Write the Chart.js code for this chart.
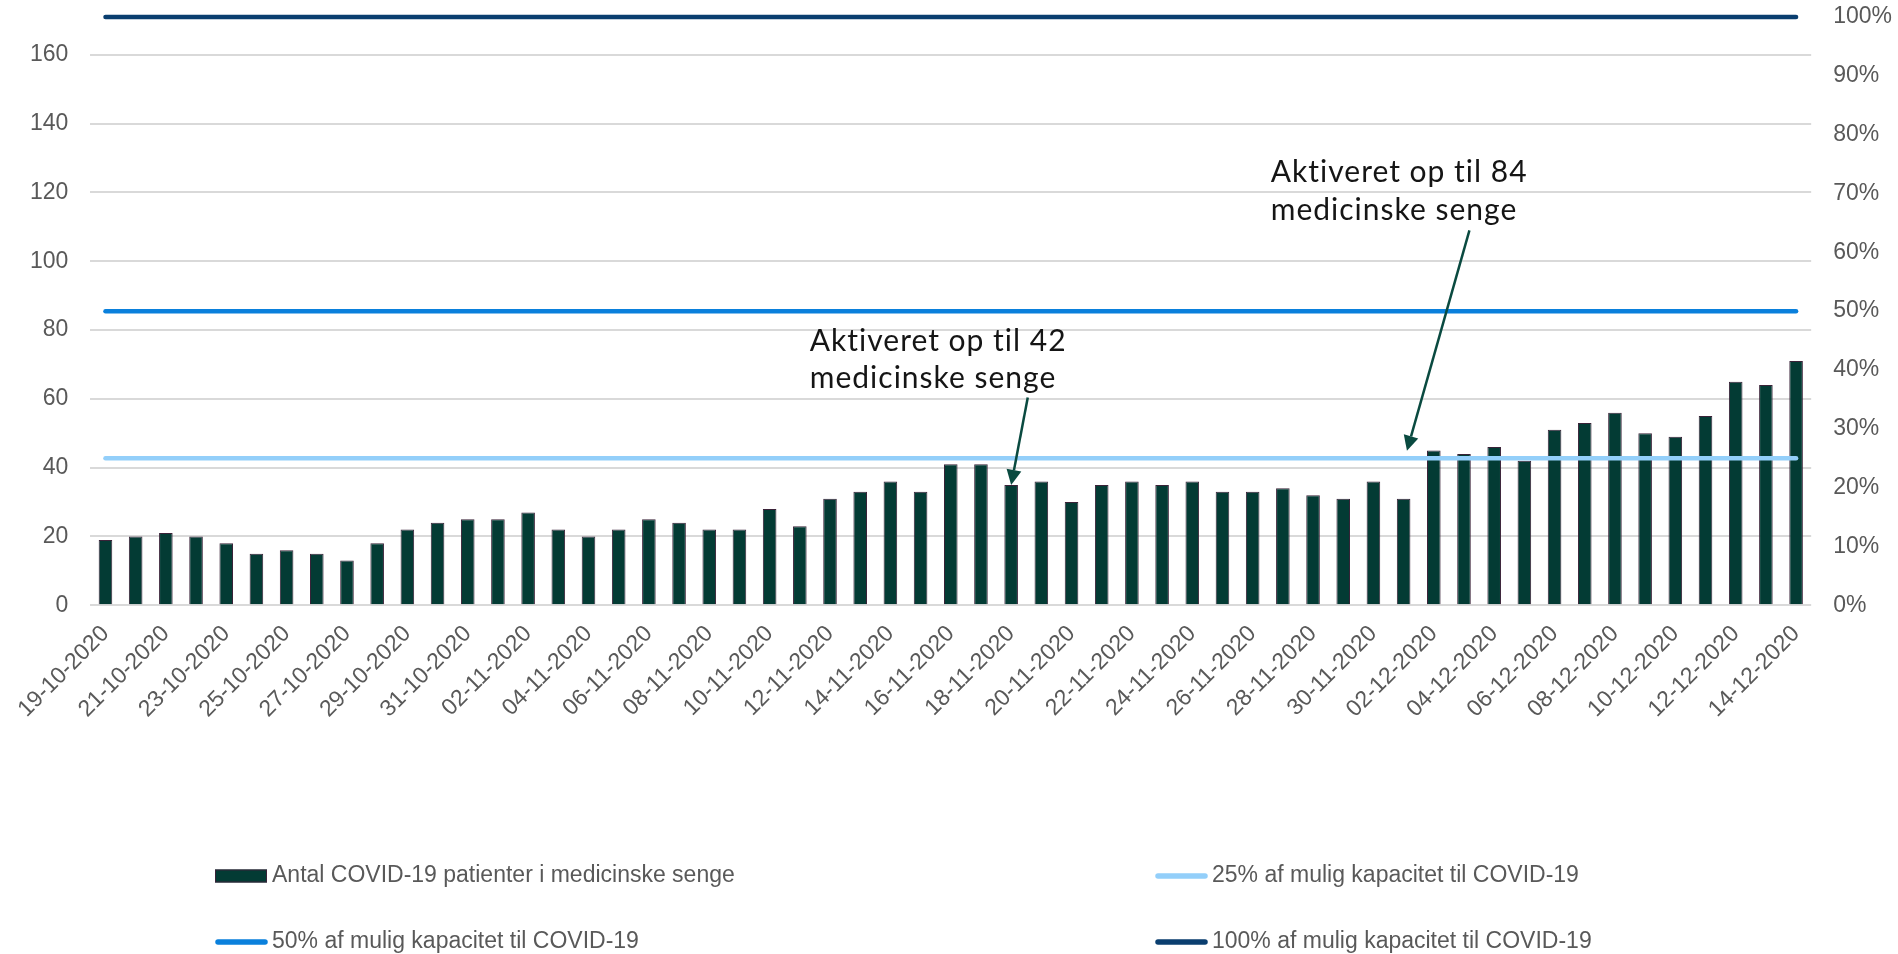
<!DOCTYPE html>
<html>
<head>
<meta charset="utf-8">
<script src="https://cdn.jsdelivr.net/npm/chart.js@4.4.1/dist/chart.umd.min.js"></script>
<style>
  html, body { margin: 0; padding: 0; background: #ffffff; }
  #wrap { width: 1898px; height: 954px; }
</style>
</head>
<body>
<div id="wrap"><canvas id="c" width="1898" height="954"></canvas></div>
<script>
// ---- data ----
const categories = [
  '19-10-2020','20-10-2020','21-10-2020','22-10-2020','23-10-2020','24-10-2020','25-10-2020','26-10-2020',
  '27-10-2020','28-10-2020','29-10-2020','30-10-2020','31-10-2020','01-11-2020','02-11-2020','03-11-2020',
  '04-11-2020','05-11-2020','06-11-2020','07-11-2020','08-11-2020','09-11-2020','10-11-2020','11-11-2020',
  '12-11-2020','13-11-2020','14-11-2020','15-11-2020','16-11-2020','17-11-2020','18-11-2020','19-11-2020',
  '20-11-2020','21-11-2020','22-11-2020','23-11-2020','24-11-2020','25-11-2020','26-11-2020','27-11-2020',
  '28-11-2020','29-11-2020','30-11-2020','01-12-2020','02-12-2020','03-12-2020','04-12-2020','05-12-2020',
  '06-12-2020','07-12-2020','08-12-2020','09-12-2020','10-12-2020','11-12-2020','12-12-2020','13-12-2020',
  '14-12-2020'
];
const patients = [
  19, 20, 21, 20, 18, 15, 16, 15, 13, 18, 22, 24, 25, 25, 27, 22, 20, 22, 25, 24,
  22, 22, 28, 23, 31, 33, 36, 33, 41, 41, 35, 36, 30, 35, 36, 35, 36, 33, 33, 34, 32, 31,
  36, 31, 45, 44, 46, 42, 51, 53, 56, 50, 49, 55, 65, 64, 71
];
const fullCapacity = 171;          // 100 % of possible COVID-19 capacity
const capacityShares = [0.25, 0.5, 1.0];
const seriesLabels = [
  'Antal COVID-19 patienter i medicinske senge',
  '25% af mulig kapacitet til COVID-19',
  '50% af mulig kapacitet til COVID-19',
  '100% af mulig kapacitet til COVID-19'
];
const leftTicks = [0, 20, 40, 60, 80, 100, 120, 140, 160];
const rightTicks = [0, 0.1, 0.2, 0.3, 0.4, 0.5, 0.6, 0.7, 0.8, 0.9, 1.0];
const annotations = [
  { lines: ['Aktiveret op til 42', 'medicinske senge'], textAt: [23.33, 74.0], lineStep: 10.9,
    arrowFrom: [30.55, 60.4], arrowTo: [30.0, 35.0] },
  { lines: ['Aktiveret op til 84', 'medicinske senge'], textAt: [38.6, 122.9], lineStep: 10.9,
    arrowFrom: [45.18, 109.0], arrowTo: [43.11, 44.9] }
];

// ---- styles ----
const barColor = '#033B34';
const barBorder = '#3A2238';
const lineColors = ['#93CFFA', '#0A80DC', '#0A3E6F'];
const tickColor = '#595959';
const gridColor = '#D9D9D9';
const FONT = "'Liberation Sans', Arial, sans-serif";

const capacityDatasets = capacityShares.map((s, i) => ({
  type: 'line',
  label: seriesLabels[i + 1],
  data: categories.map(() => fullCapacity * s),
  borderColor: lineColors[i],
  backgroundColor: lineColors[i],
  borderWidth: 4.5,
  borderCapStyle: 'round',
  pointRadius: 0,
  pointHoverRadius: 0,
  yAxisID: 'y',
  order: 0,
  clip: false
}));

const zeroPad = s => { s.paddingLeft = 0; s.paddingRight = 0; s.paddingTop = 0; s.paddingBottom = 0; };
// Chart.js reserves the tick padding twice for vertical axes; keep it once
const trimVertical = s => { zeroPad(s); s.width -= s.options.ticks.padding; };

const legendPlugin = {
  id: 'gridLegend',
  afterDraw(chart) {
    const ctx = chart.ctx;
    const cols = [215, 1155];
    const rows = [876, 942];
    const ds = chart.data.datasets;
    ctx.save();
    ctx.font = '23px ' + FONT;
    ctx.textBaseline = 'middle';
    ctx.fillStyle = tickColor;
    ds.forEach((d, i) => {
      const x = cols[i % 2];
      const y = rows[Math.floor(i / 2)];
      if (d.type === 'line') {
        ctx.strokeStyle = d.borderColor;
        ctx.lineWidth = 5.5;
        ctx.lineCap = 'round';
        ctx.beginPath();
        ctx.moveTo(x + 3, y);
        ctx.lineTo(x + 50, y);
        ctx.stroke();
      } else {
        ctx.fillStyle = d.backgroundColor;
        ctx.fillRect(x, y - 6.5, 52, 13);
        ctx.strokeStyle = d.borderColor;
        ctx.lineWidth = 1;
        ctx.strokeRect(x + 0.5, y - 6, 51, 12);
      }
      ctx.fillStyle = tickColor;
      ctx.fillText(d.label, x + 57, y);
    });
    ctx.restore();
  }
};

const annotationPlugin = {
  id: 'arrowNotes',
  afterDatasetsDraw(chart) {
    const ctx = chart.ctx;
    const xs = chart.scales.x, ys = chart.scales.y;
    ctx.save();
    annotations.forEach(a => {
      ctx.font = "30px Lato, 'Open Sans', sans-serif";
      if ('letterSpacing' in ctx) ctx.letterSpacing = '1px';
      ctx.fillStyle = '#151515';
      ctx.textBaseline = 'alphabetic';
      ctx.textAlign = 'left';
      a.lines.forEach((t, k) => {
        ctx.fillText(t, xs.getPixelForValue(a.textAt[0]), ys.getPixelForValue(a.textAt[1] - k * a.lineStep));
      });
      if ('letterSpacing' in ctx) ctx.letterSpacing = '0px';
      const x0 = xs.getPixelForValue(a.arrowFrom[0]), y0 = ys.getPixelForValue(a.arrowFrom[1]);
      const x1 = xs.getPixelForValue(a.arrowTo[0]), y1 = ys.getPixelForValue(a.arrowTo[1]);
      const ang = Math.atan2(y1 - y0, x1 - x0);
      const headLen = 15, headW = 7.5;
      const bx = x1 - headLen * Math.cos(ang), by = y1 - headLen * Math.sin(ang);
      ctx.strokeStyle = '#0A4A40';
      ctx.fillStyle = '#0A4A40';
      ctx.lineWidth = 2.5;
      ctx.beginPath();
      ctx.moveTo(x0, y0);
      ctx.lineTo(bx, by);
      ctx.stroke();
      ctx.beginPath();
      ctx.moveTo(x1, y1);
      ctx.lineTo(bx + headW * Math.sin(ang), by - headW * Math.cos(ang));
      ctx.lineTo(bx - headW * Math.sin(ang), by + headW * Math.cos(ang));
      ctx.closePath();
      ctx.fill();
    });
    ctx.restore();
  }
};

new Chart(document.getElementById('c'), {
  type: 'bar',
  data: {
    labels: categories,
    datasets: [
      {
        type: 'bar',
        label: seriesLabels[0],
        data: patients,
        backgroundColor: barColor,
        borderColor: barBorder,
        borderWidth: 1,
        barPercentage: 0.45,
        categoryPercentage: 1.0,
        yAxisID: 'y',
        order: 1
      },
      ...capacityDatasets
    ]
  },
  options: {
    responsive: false,
    devicePixelRatio: 1,
    animation: false,
    events: [],
    layout: { padding: { left: 30, right: 6, top: 17, bottom: 216 } },
    plugins: {
      legend: { display: false },
      tooltip: { enabled: false }
    },
    scales: {
      x: {
        offset: true,
        afterFit: zeroPad,
        grid: { display: false, drawTicks: false },
        border: { display: false },
        ticks: {
          autoSkip: false,
          minRotation: 45,
          maxRotation: 45,
          padding: 15,
          color: tickColor,
          font: { family: FONT, size: 23 },
          callback: function (v, i) { return i % 2 === 0 ? categories[i] : ''; }
        }
      },
      y: {
        position: 'left',
        min: 0,
        max: fullCapacity,
        afterBuildTicks: s => { s.ticks = leftTicks.map(v => ({ value: v })); },
        afterFit: trimVertical,
        grid: { color: gridColor, lineWidth: 2, drawTicks: false },
        border: { display: false },
        ticks: {
          padding: 22,
          color: tickColor,
          font: { family: FONT, size: 23 }
        }
      },
      y1: {
        position: 'right',
        min: 0,
        max: 1,
        afterBuildTicks: s => { s.ticks = rightTicks.map(v => ({ value: v })); },
        afterFit: trimVertical,
        grid: { display: false, drawTicks: false },
        border: { display: false },
        ticks: {
          padding: 22,
          color: tickColor,
          font: { family: FONT, size: 23 },
          callback: v => Math.round(v * 100) + '%'
        }
      }
    }
  },
  plugins: [annotationPlugin, legendPlugin]
});
</script>
</body>
</html>
